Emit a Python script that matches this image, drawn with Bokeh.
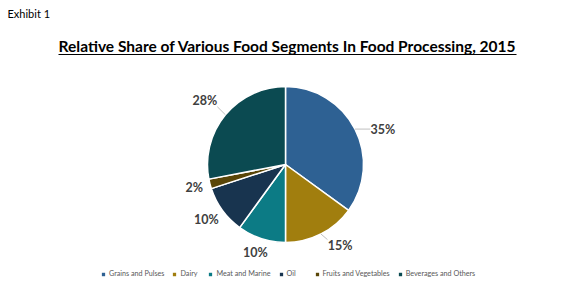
import math
from bokeh.plotting import figure
from bokeh.models import Range1d, Legend, LegendItem, ColumnDataSource
from bokeh.core.properties import value
from bokeh.embed import file_html
from bokeh.resources import INLINE

# ---- data ----
categories = ["Grains and Pulses", "Dairy", "Meat and Marine", "Oil",
              "Fruits and Vegetables", "Beverages and Others"]
shares = [35, 15, 10, 10, 2, 28]
labels = ["35%", "15%", "10%", "10%", "2%", "28%"]
colors = ["#2E6193", "#A17E0E", "#0C7B85", "#18344F", "#5A4608", "#0B4A51"]
title = "Relative Share of Various Food Segments In Food Processing, 2015"
exhibit = "Exhibit 1"

# ---- layout ----
W, H = 561, 290
cx, cy = 285, H - 164
R = 78
FONT = "Lato"
# label placement nudges in pixels (dx, dy with y up), per slice order
label_nudge = [(4, -10), (7, 8), (0, 0), (0, 0), (0, 0), (0, 0)]

p = figure(width=W, height=H, x_range=Range1d(0, W), y_range=Range1d(0, H),
           output_backend="svg", toolbar_location=None, min_border=0)
p.axis.visible = False
p.grid.visible = False
p.outline_line_color = None
p.background_fill_color = "white"

total = float(sum(shares))
starts, ends, mids = [], [], []
cum = 0.0
for s in shares:
    a0 = math.pi / 2 - 2 * math.pi * cum / total
    cum += s
    a1 = math.pi / 2 - 2 * math.pi * cum / total
    starts.append(a0)
    ends.append(a1)
    mids.append((a0 + a1) / 2)

src = ColumnDataSource(dict(cat=categories, start=starts, end=ends, color=colors))
wr = p.wedge(x=cx, y=cy, radius=R, start_angle="start", end_angle="end",
             direction="clock", fill_color="color", line_color="white",
             line_width=1.5, source=src)

# data labels
lx, ly = [], []
lines_x, lines_y = [], []
for s, m, lab, (nx, ny) in zip(shares, mids, labels, label_nudge):
    ux, uy = math.cos(m), math.sin(m)
    big = s >= 15
    d = 16 if big else 9
    hw = 3.6 * len(lab)
    hh = 6
    x = cx + (R + d) * ux + hw * ux + nx
    y = cy + (R + d) * uy + hh * uy + ny
    lx.append(x)
    ly.append(y)
    if big:
        ex, ey = cx + R * ux, cy + R * uy
        bw = 4.2 * len(lab)
        px = min(max(ex, x - bw), x + bw)
        py = min(max(ey, y - 6), y + 6)
        lines_x.append([ex, px])
        lines_y.append([ey, py])

p.multi_line(xs=lines_x, ys=lines_y, line_color="#BFBFBF", line_width=1)
p.text(x=lx, y=ly, text=labels, text_font=value(FONT), text_font_style="bold",
       text_font_size="12.5px", text_color="#404040", text_align="center",
       text_baseline="middle")

# title + underline
p.text(x=[287], y=[H - 45], text=[title], text_font=value(FONT),
       text_font_style="bold", text_font_size="15.5px", text_color="#000000",
       text_align="center", text_baseline="middle")
p.segment(x0=[58], y0=[H - 54], x1=[516], y1=[H - 54], line_color="#000000",
          line_width=1.2)
p.text(x=[7], y=[H - 13], text=[exhibit], text_font=value(FONT),
       text_font_size="11px", text_color="#000000", text_align="left",
       text_baseline="middle")

# legend
items = [LegendItem(label=c, renderers=[wr], index=i) for i, c in enumerate(categories)]
leg = Legend(items=items, orientation="horizontal", location=(100, 12),
             glyph_width=6, glyph_height=6, label_text_font=FONT,
             label_text_font_size="7.2px", label_text_color="#595959",
             label_standoff=3, spacing=7, padding=0, margin=0,
             border_line_color=None, background_fill_alpha=0,
             label_height=8, label_text_baseline="middle")
p.add_layout(leg, "center")

open("out.html", "w").write(file_html(p, INLINE))
